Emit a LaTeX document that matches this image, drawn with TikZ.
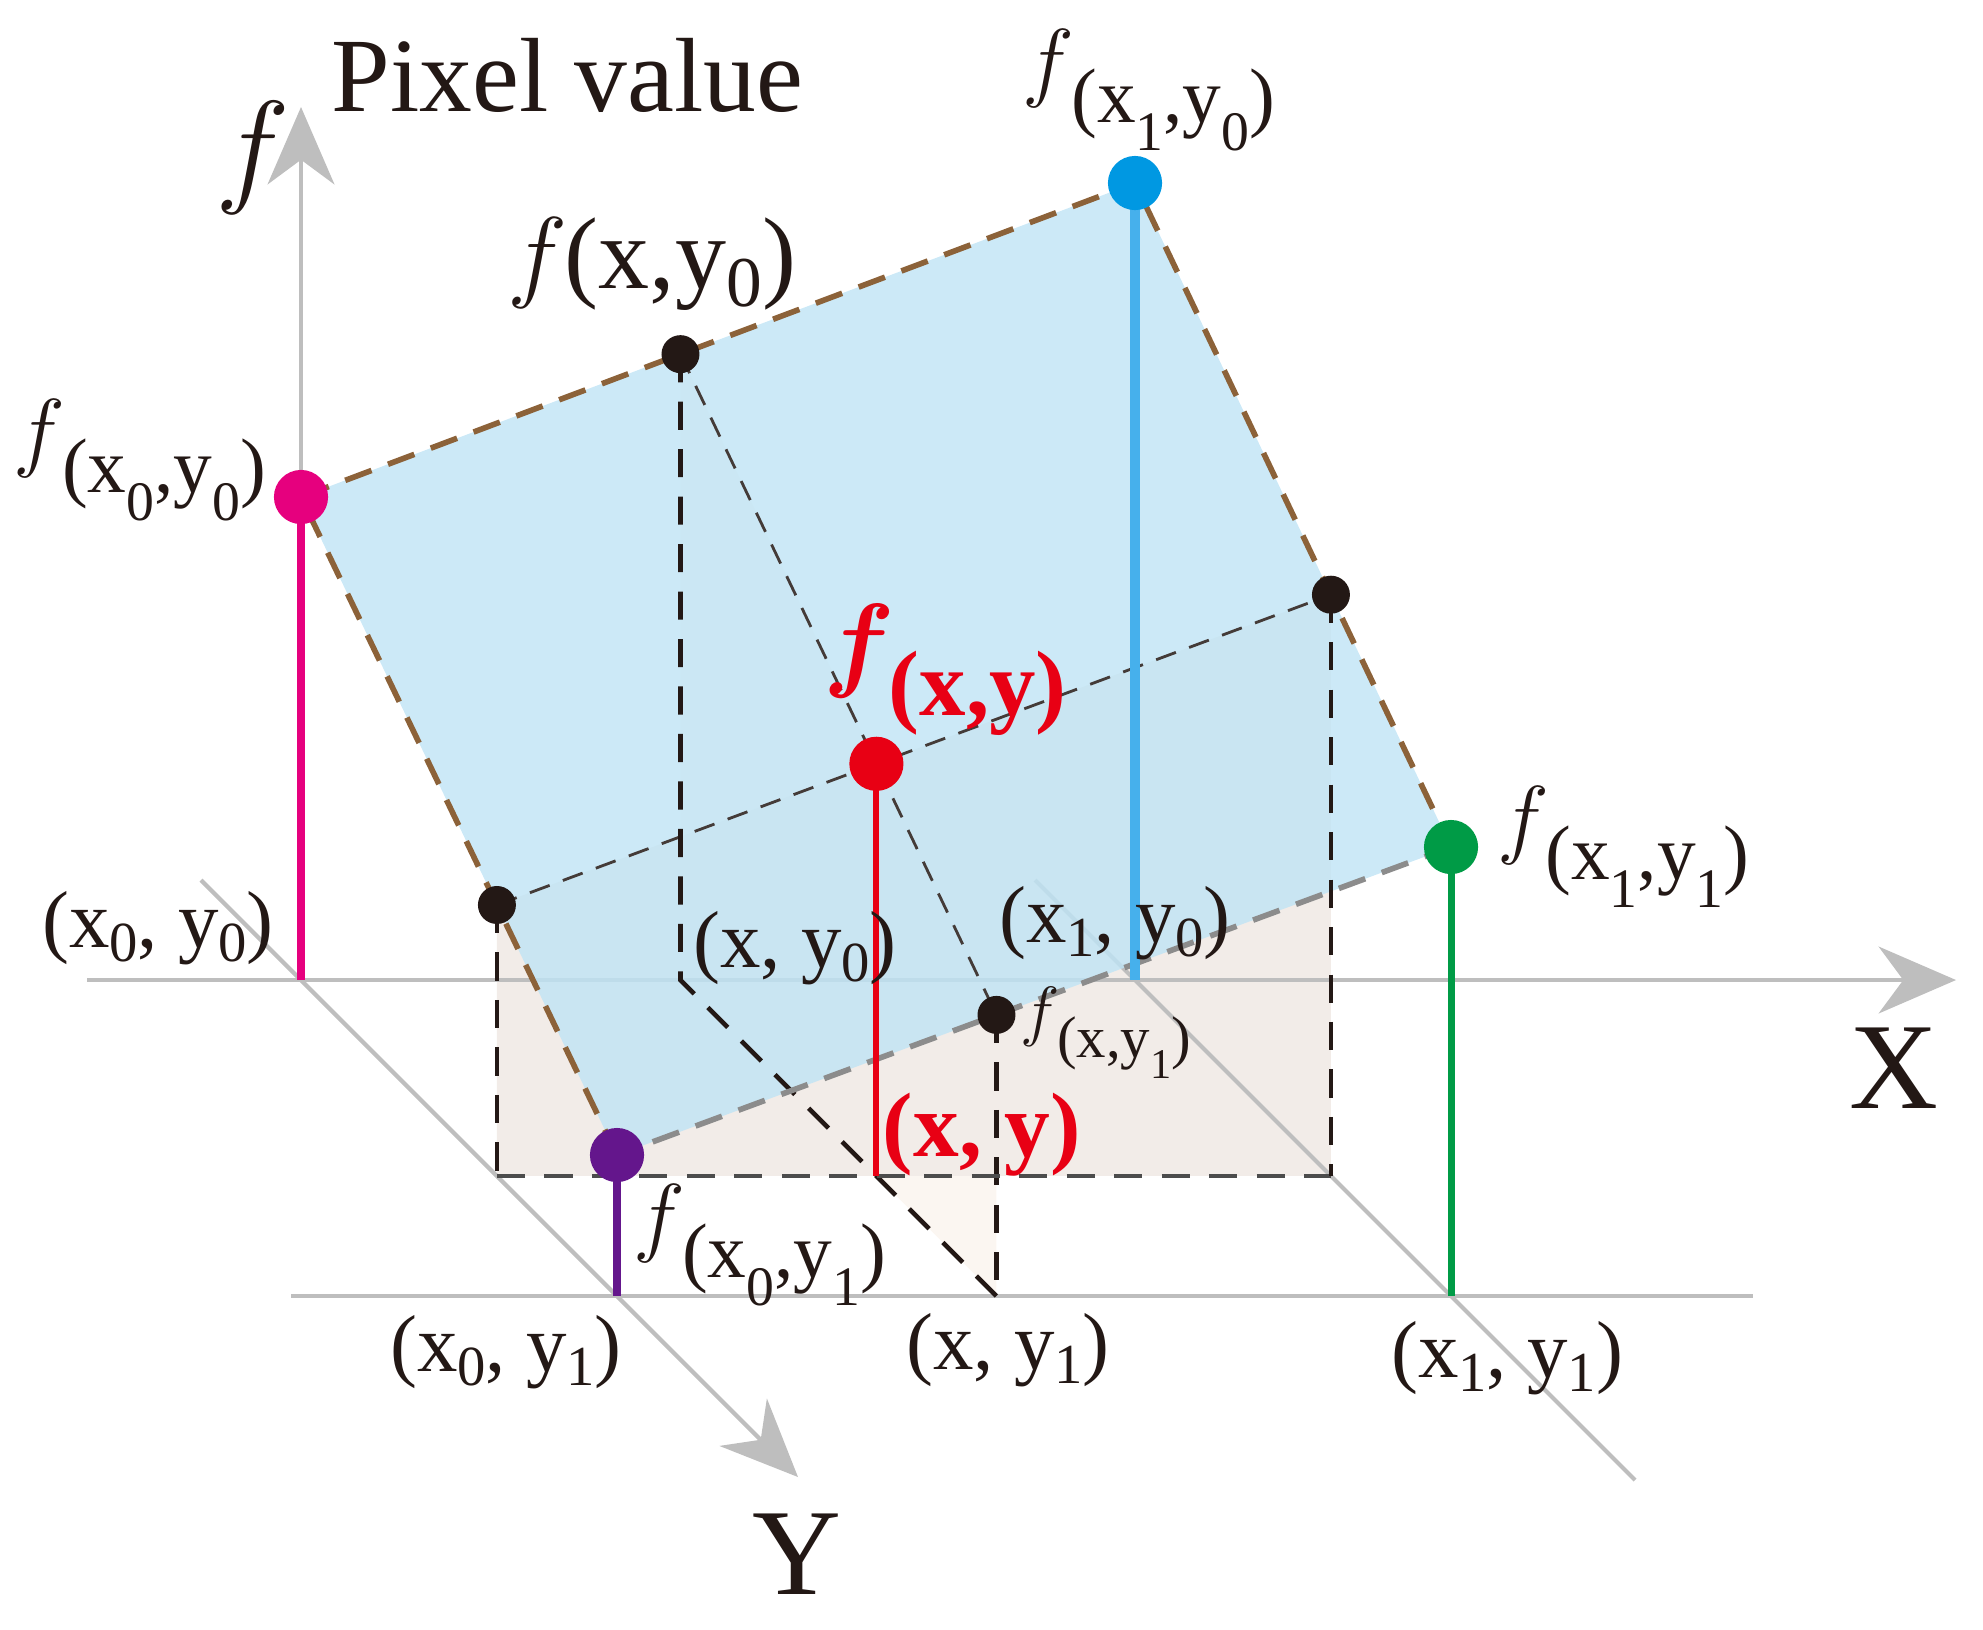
\RequirePackage{fix-cm}
\documentclass[tikz,border=0pt]{standalone}
\usepackage{bm}
\usepackage{fontspec}
\setmainfont{Liberation Serif}
\usepackage{graphicx}
\usetikzlibrary{positioning}
\usetikzlibrary{calc}
\usetikzlibrary{arrows.meta}
\definecolor{magen}{RGB}{230,0,126}
\definecolor{dotblue}{RGB}{0,152,226}
\definecolor{stemblue}{RGB}{70,176,236}
\definecolor{dotgreen}{RGB}{0,155,70}
\definecolor{dotpurple}{RGB}{100,22,140}
\definecolor{dotred}{RGB}{232,0,20}
\definecolor{dotblack}{RGB}{35,24,21}
\definecolor{edgebrown}{RGB}{140,98,57}
\definecolor{axisgray}{RGB}{190,190,190}
\definecolor{planeblue}{RGB}{191,228,245}
\definecolor{wallbeige}{RGB}{242,236,232}
\definecolor{wallpale}{RGB}{251,246,241}

% lowered parts of the labels
\newcommand{\dn}[1]{\raisebox{-0.36em}{\scalebox{0.72}{#1}}}
\newcommand{\gd}[1]{\raisebox{-0.18em}{\scalebox{0.7}{#1}}}
\newcommand{\fat}[1]{$f$\kern-0.04em\raisebox{-0.36em}{\scalebox{0.88}{(#1)}}}
\newcommand{\fatb}[1]{$\bm{f}$\kern-0.06em\raisebox{-0.36em}{\scalebox{0.88}{(#1)}}}

\tikzset{
  axis/.style={draw=axisgray, line width=1.2pt},
  axisarrow/.style={axis, -{Stealth[length=22pt,width=19pt,inset=7pt]}},
  dot/.style={circle, fill=#1, inner sep=0pt, minimum size=15.4pt},
  bdot/.style={circle, fill=dotblack, inner sep=0pt, minimum size=10.8pt},
  rim/.style={line width=1.6pt, dash pattern=on 8pt off 5pt, draw=#1},
  proj/.style={draw=dotblack, line width=1.3pt, dash pattern=on 8pt off 5.5pt},
  guide/.style={draw=dotblack!85, line width=0.8pt, dash pattern=on 6pt off 4pt},
  stem/.style={draw=#1, line width=2pt},
  lab/.style={inner sep=0pt, text=dotblack, font=\fontsize{23}{23}\selectfont},
  flab/.style={inner sep=0pt, text=dotblack, font=\fontsize{25}{25}\selectfont},
}

\begin{document}
\begin{tikzpicture}[x=0.01cm, y=-0.01cm]
        \useasboundingbox (0,0) rectangle (1983,1629);

        % ground points %
        \coordinate (o00) at (301,980);
        \coordinate (o10) at (1135,980);
        \coordinate (o01) at (617,1296);
        \coordinate (o11) at (1451,1296);
        \coordinate (ox0) at ($(o00)!0.455!(o10)$);
        \coordinate (ox1) at ($(o01)!0.455!(o11)$);
        \coordinate (o0y) at ($(o00)!0.62!(o01)$);
        \coordinate (o1y) at ($(o10)!0.62!(o11)$);
        \coordinate (oxy) at ($(o0y)!0.455!(o1y)$);

        % pixel values %
        \coordinate (p00) at (301,497);
        \coordinate (p10) at (1135,183);
        \coordinate (p11) at (1451,847);
        \coordinate (p01) at (617,1155);
        \coordinate (px0) at ($(p00)!0.455!(p10)$);
        \coordinate (px1) at ($(p01)!0.455!(p11)$);
        \coordinate (p0y) at ($(p00)!0.62!(p01)$);
        \coordinate (p1y) at ($(p10)!0.62!(p11)$);
        \coordinate (pxy) at ($(p0y)!0.455!(p1y)$);

        % axis ends %
        \coordinate (xs) at (87,980);
        \coordinate (xe) at (1956,980);
        \coordinate (fe) at (301,107);
        \coordinate (ys) at ($(o00)+(-100,-100)$);
        \coordinate (ye) at ($(o00)+(497,497)$);
        \coordinate (ks) at ($(o10)+(-100,-100)$);
        \coordinate (ke) at ($(o10)+(500,500)$);
        \coordinate (ls) at (291,1296);
        \coordinate (le) at (1753,1296);

        % walls %
        \fill[wallpale] (px0) -- (px1) -- (ox1) -- (ox0) -- cycle;
        \fill[wallbeige] (p0y) -- (p1y) -- (o1y) -- (o0y) -- cycle;

        % axes %
        \draw[axis] (ls) -- (le);
        \draw[axis] (ks) -- (ke);
        \draw[axisarrow] (xs) -- (xe);
        \draw[axisarrow] (o00) -- (fe);
        \draw[axisarrow] (ys) -- (ye);

        % plane %
        \fill[planeblue, fill opacity=0.8] (p00) -- (p10) -- (p11) -- (p01) -- cycle;

        % edges %
        \draw[guide] (px0) -- (px1);
        \draw[guide] (p0y) -- (p1y);
        \draw[proj] (px0) -- (ox0) -- (ox1);
        \draw[proj] (px1) -- (ox1);
        \draw[proj] (p0y) -- (o0y);
        \draw[proj, draw=black!70] (o0y) -- (o1y);
        \draw[proj] (p1y) -- (o1y);
        \draw[rim=edgebrown] (p01) -- (p00) -- (p10) -- (p11);
        \draw[rim=black!45] (p11) -- (p01);
        \draw[stem=magen] (p00) -- (o00);
        \draw[stem=stemblue, line width=2.8pt] (p10) -- (o10);
        \draw[stem=dotgreen] (p11) -- (o11);
        \draw[stem=dotpurple] (p01) -- (o01);
        \draw[stem=dotred, line width=1.7pt] (pxy) -- (oxy);

        % nodes %
        \node[dot=magen] (m) at (p00) {};
        \node[dot=dotblue] (b) at (p10) {};
        \node[dot=dotgreen] (g) at (p11) {};
        \node[dot=dotpurple] (p) at (p01) {};
        \node[dot=dotred] (r) at (pxy) {};
        \node[bdot] (t) at (px0) {};
        \node[bdot] (d) at (px1) {};
        \node[bdot] (l) at (p0y) {};
        \node[bdot] (k) at (p1y) {};

        % labels %
        \node[flab, font=\fontsize{36}{36}\selectfont] (fax) at (253,158) {$f$};
        \node[flab, anchor=base west, font=\fontsize{30}{30}\selectfont] (pv) at (331,111) {Pixel value};
        \node[flab, above=1pt of b, xshift=4pt] (lb) {\fat{x\dn{1},y\dn{0}}};
        \node[flab, font=\fontsize{29}{29}\selectfont] (lt) at (652,264) {$f$\kern-0.03em(x,y\gd{0})};
        \node[flab] (lm) at (140,460) {\fat{x\dn{0},y\dn{0}}};
        \node[flab, right=5pt of g] (lg) {\fat{x\dn{1},y\dn{1}}};
        \node[flab, font=\fontsize{19}{19}\selectfont, right=1pt of d, yshift=-5pt] (ld) {\fat{x,y\dn{1}}};
        \node[flab] (lp) at (760,1245) {\fat{x\dn{0},y\dn{1}}};
        \node[flab, text=dotred, font=\fontsize{30}{30}\selectfont\bfseries] (lr) at (945,670) {\fatb{x,y}};

        \node[lab] (g00) at (158,928) {(x\gd{0}, y\gd{0})};
        \node[lab] (gx0) at (795,948) {(x, y\gd{0})};
        \node[lab] (g10) at (1115,923) {(x\gd{1}, y\gd{0})};
        \node[lab, text=dotred, font=\fontsize{26}{26}\selectfont\bfseries] (gxy) at (982,1135) {(x, y)};
        \node[lab] (g01) at (506,1352) {(x\gd{0}, y\gd{1})};
        \node[lab] (gx1) at (1008,1350) {(x, y\gd{1})};
        \node[lab] (g11) at (1507,1358) {(x\gd{1}, y\gd{1})};

        \node[lab, font=\fontsize{35}{35}\selectfont] (xl) at (1894,1068) {X};
        \node[lab, font=\fontsize{35}{35}\selectfont] (yl) at (797,1554) {Y};
\end{tikzpicture}
\end{document}
